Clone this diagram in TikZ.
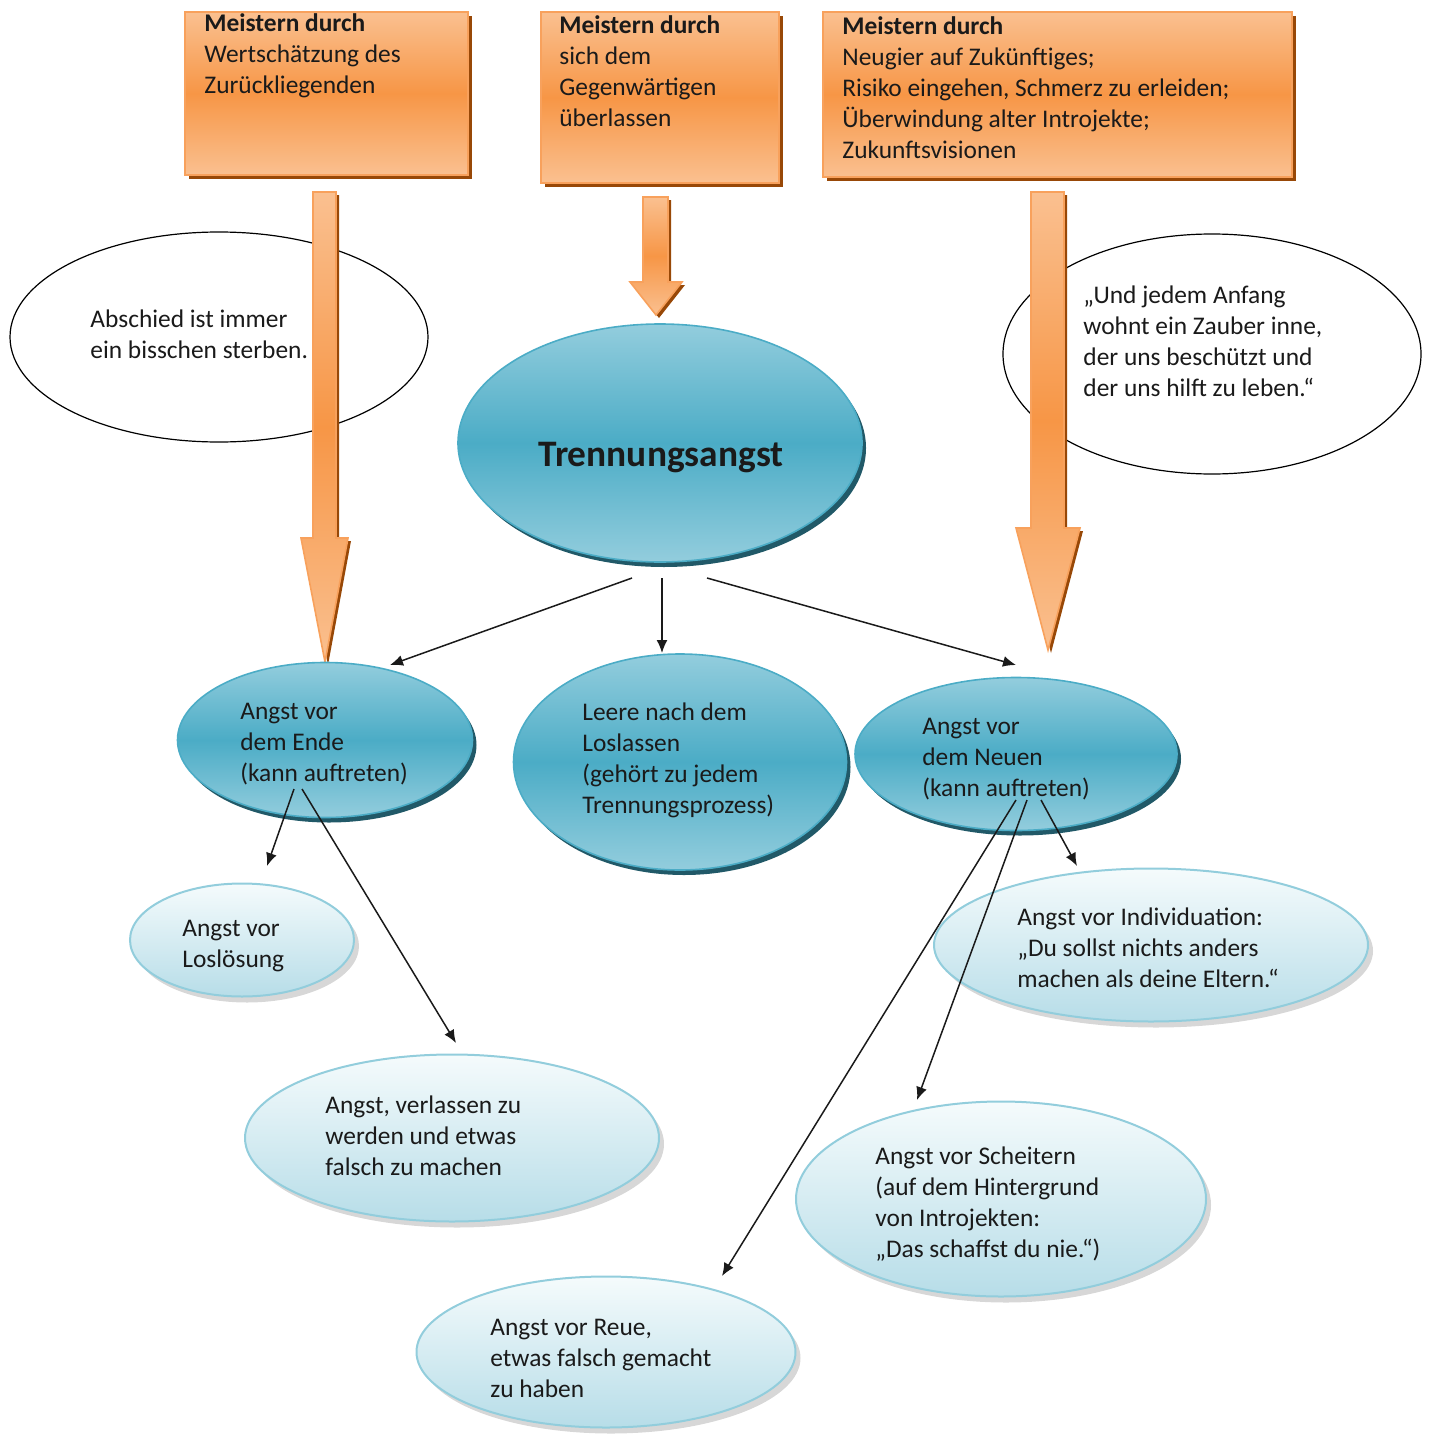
\documentclass[tikz,border=0pt]{standalone}
\usepackage{fontspec}
\setmainfont{Carlito}
\usetikzlibrary{shapes.geometric,shadows,arrows.meta}
\definecolor{peach}{HTML}{FAC090}
\definecolor{orangeM}{HTML}{F79646}
\definecolor{orangeEdge}{HTML}{F8A15C}
\definecolor{brownSh}{HTML}{984807}
\definecolor{blueL}{HTML}{93CDDD}
\definecolor{blueM}{HTML}{4BACC6}
\definecolor{tealSh}{HTML}{215968}
\definecolor{paleTop}{HTML}{F5FBFC}
\definecolor{paleBot}{HTML}{B7DDE8}
\definecolor{paleEdge}{HTML}{92CDDC}
\definecolor{textdark}{HTML}{1A1A1A}
\newcommand{\txtlines}[1]{\begin{tabular}[t]{@{}l@{}}#1\end{tabular}}
\begin{document}
\begin{tikzpicture}[x=0.5pt,y=-0.5pt,
  obox/.style={rectangle, inner sep=0pt, draw=orangeEdge, line width=1pt,
    top color=peach, bottom color=peach, middle color=orangeM,
    drop shadow={shadow xshift=2pt, shadow yshift=-2pt, fill=brownSh, opacity=1}},
  wellip/.style={ellipse, inner sep=0pt, draw=black, line width=0.6pt, fill=white},
  bellip/.style={ellipse, inner sep=0pt, draw=blueM, line width=0.8pt,
    top color=blueL, bottom color=blueL, middle color=blueM,
    drop shadow={shadow xshift=2pt, shadow yshift=-2.5pt, fill=tealSh, opacity=1}},
  pellip/.style={ellipse, inner sep=0pt, draw=paleEdge, line width=1pt,
    top color=paleTop, bottom color=paleBot,
    drop shadow={shadow xshift=2.5pt, shadow yshift=-3pt, fill=black!45, opacity=0.35}},
  txt/.style={inner sep=0pt, anchor=base west, text=textdark,
    font=\fontsize{12.7}{15.5}\selectfont},
  barrow/.style={draw=orangeEdge, line width=0.8pt, top color=peach, bottom color=peach, middle color=orangeM},
  barrowsh/.style={fill=brownSh},
  conn/.style={draw=textdark, line width=0.75pt, -{Latex[length=6.5pt,width=5.5pt]}}
]
\useasboundingbox (0,0) rectangle (1432,1434);

% white quote ellipses
\node[wellip, minimum width=209pt, minimum height=105pt] (e1) at (219,337) {};
\node[wellip, minimum width=209pt, minimum height=120pt] (e2) at (1212,354) {};
\node[txt] (e1t) at (90,327) {\txtlines{Abschied ist immer\\ein bisschen sterben.}};
\node[txt] (e2t) at (1083,303) {\txtlines{„Und jedem Anfang\\wohnt ein Zauber inne,\\der uns beschützt und\\der uns hilft zu leben.“}};

% orange boxes
\node[obox, minimum width=141.5pt, minimum height=81.5pt] (b1) at (326.5,93.5) {};
\node[obox, minimum width=119pt, minimum height=85.5pt] (b2) at (660,97.5) {};
\node[obox, minimum width=234.5pt, minimum height=82.5pt] (b3) at (1057.5,94.5) {};
\node[txt] (b1t) at (204,32) {\txtlines{\textbf{Meistern durch}\\Wertschätzung des\\Zurückliegenden}};
\node[txt] (b2t) at (559,34) {\txtlines{\textbf{Meistern durch}\\sich dem\\Gegenwärtigen\\überlassen}};
\node[txt] (b3t) at (842,35) {\txtlines{\textbf{Meistern durch}\\Neugier auf Zukünftiges;\\Risiko eingehen, Schmerz zu erleiden;\\Überwindung alter Introjekte;\\Zukunftsvisionen}};

% block arrows
\path[barrowsh] (316,195) -- (339,195) -- (339,541) -- (351,541) -- (328,665) -- (304,541) -- (316,541) -- cycle;
\path[barrow] (313,192) -- (336,192) -- (336,538) -- (348,538) -- (325,662) -- (301,538) -- (313,538) -- cycle;
\path[barrowsh] (646,200) -- (671,200) -- (671,285) -- (685,285) -- (659,318) -- (633,285) -- (646,285) -- cycle;
\path[barrow] (643,197) -- (668,197) -- (668,282) -- (682,282) -- (656,315) -- (630,282) -- (643,282) -- cycle;
\path[barrowsh] (1034,195) -- (1067,195) -- (1067,531) -- (1083,531) -- (1051,653) -- (1019,531) -- (1034,531) -- cycle;
\path[barrow] (1031,192) -- (1064,192) -- (1064,528) -- (1080,528) -- (1048,650) -- (1016,528) -- (1031,528) -- cycle;

% main ellipse
\node[bellip, minimum width=202pt, minimum height=119pt] (tr) at (660,443) {};
\node[inner sep=0pt, anchor=base, text=textdark, font=\fontsize{18.7}{22}\selectfont\bfseries] (trt) at (661,466) {Trennungsangst};

% second level
\node[bellip, minimum width=147.5pt, minimum height=77.5pt] (m1) at (325,740) {};
\node[bellip, minimum width=166.5pt, minimum height=108pt] (m2) at (680,762) {};
\node[bellip, minimum width=161pt, minimum height=76.5pt] (m3) at (1016,754) {};
\node[txt] (m1t) at (240,719) {\txtlines{Angst vor\\dem Ende\\(kann auftreten)}};
\node[txt] (m2t) at (582,720) {\txtlines{Leere nach dem\\Loslassen\\(gehört zu jedem\\Trennungsprozess)}};
\node[txt] (m3t) at (922,734) {\txtlines{Angst vor\\dem Neuen\\(kann auftreten)}};

% third level
\node[pellip, minimum width=112pt, minimum height=56.5pt] (l1) at (242,940) {};
\node[pellip, minimum width=207pt, minimum height=83.5pt] (l2) at (452,1138) {};
\node[pellip, minimum width=217pt, minimum height=76.5pt] (l3) at (1151,945) {};
\node[pellip, minimum width=205pt, minimum height=97.5pt] (l4) at (1001,1199) {};
\node[pellip, minimum width=189.5pt, minimum height=75.5pt] (l5) at (606,1352) {};
\node[txt] (l1t) at (182,936) {\txtlines{Angst vor\\Loslösung}};
\node[txt] (l2t) at (325,1113) {\txtlines{Angst, verlassen zu\\werden und etwas\\falsch zu machen}};
\node[txt] (l3t) at (1017,925) {\txtlines{Angst vor Individuation:\\„Du sollst nichts anders\\machen als deine Eltern.“}};
\node[txt] (l4t) at (875,1164) {\txtlines{Angst vor Scheitern\\(auf dem Hintergrund\\von Introjekten:\\„Das schaffst du nie.“)}};
\node[txt] (l5t) at (490,1335) {\txtlines{Angst vor Reue,\\etwas falsch gemacht\\zu haben}};

% connectors
\coordinate (ta) at (632,578);
\coordinate (tb) at (662,578);
\coordinate (tc) at (707,578);
\coordinate (m1a) at (294,789);
\coordinate (m1b) at (302,789);
\coordinate (m3a) at (1016,800);
\coordinate (m3b) at (1027,800);
\coordinate (m3c) at (1041,800);
\coordinate (m1in) at (390,665);
\coordinate (m2in) at (662,653);
\coordinate (m3in) at (1016,665);
\coordinate (l1in) at (267,866);
\coordinate (l2in) at (456,1043);
\coordinate (l5in) at (722,1276);
\coordinate (l4in) at (917,1100);
\coordinate (l3in) at (1077,866);
\draw[conn] (ta) -- (m1in);
\draw[conn] (tb) -- (m2in);
\draw[conn] (tc) -- (m3in);
\draw[conn] (m1a) -- (l1in);
\draw[conn] (m1b) -- (l2in);
\draw[conn] (m3a) -- (l5in);
\draw[conn] (m3b) -- (l4in);
\draw[conn] (m3c) -- (l3in);
\end{tikzpicture}
\end{document}
